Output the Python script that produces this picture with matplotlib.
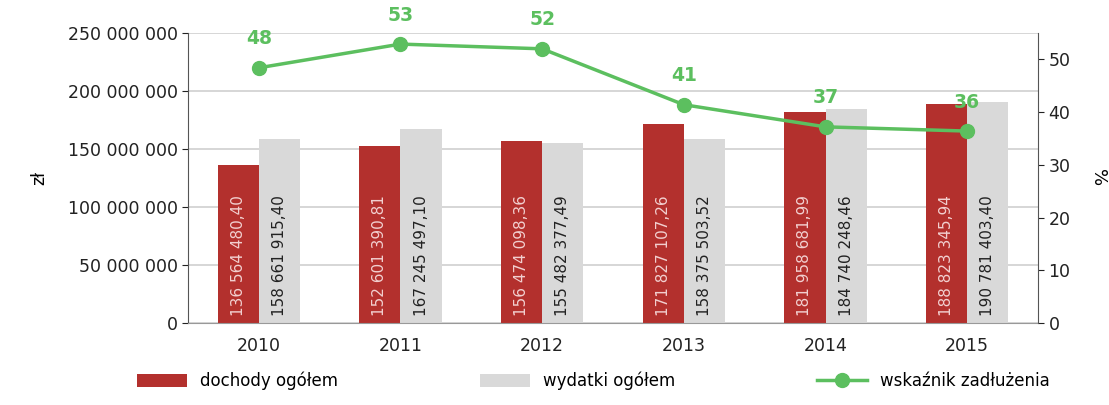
import numpy as np
import matplotlib.pyplot as plt
from matplotlib.ticker import FuncFormatter

years = ['2010', '2011', '2012', '2013', '2014', '2015']
dochody = [136564480.40, 152601390.81, 156474098.36, 171827107.26, 181958681.99, 188823345.94]
wydatki = [158661915.40, 167245497.10, 155482377.49, 158375503.52, 184740248.46, 190781403.40]
wskaznik = [48.4, 52.9, 52.0, 41.4, 37.2, 36.4]
wskaznik_labels = ['48', '53', '52', '41', '37', '36']

red = '#b3302d'
grey = '#d9d9d9'
green = '#5cbf5f'


def pl(v):
    s = '{:,.2f}'.format(v)
    return s.replace(',', ' ').replace('.', ',')


fig = plt.figure(figsize=(11.09, 4.05), dpi=100)
ax = fig.add_axes([0.1695, 0.2025, 0.7665, 0.716])
x = np.arange(len(years))
w = 0.29

ax.bar(x - w / 2, dochody, w, color=red, label='dochody ogółem', zorder=2)
ax.bar(x + w / 2, wydatki, w, color=grey, label='wydatki ogółem', zorder=2)

for i in range(len(years)):
    ax.text(x[i] - w / 2, 6e6, pl(dochody[i]), rotation=90, ha='center', va='bottom',
            color='#f2d0d0', fontsize=11, zorder=3)
    ax.text(x[i] + w / 2, 6e6, pl(wydatki[i]), rotation=90, ha='center', va='bottom',
            color='#222222', fontsize=11, zorder=3)

ax.set_xlim(-0.5, 5.5)
ax.set_ylim(0, 250e6)
ax.set_yticks(np.arange(0, 250e6 + 1, 50e6))
ax.yaxis.set_major_formatter(FuncFormatter(lambda v, p: '{:,.0f}'.format(v).replace(',', ' ')))
ax.set_xticks(x)
ax.set_xticklabels(years)
ax.grid(True, axis='y', color='#cfcfcf', linewidth=1.2, zorder=0)
ax.set_axisbelow(True)
for s in ['top', 'right']:
    ax.spines[s].set_visible(False)
ax.spines['left'].set_color('#555555')
ax.spines['bottom'].set_color('#999999')
ax.tick_params(axis='both', labelsize=12.5, colors='#222222', length=4)
ax.tick_params(axis='x', length=0, pad=10)
ax.set_ylabel('zł', fontsize=12.5, labelpad=14)

ax2 = ax.twinx()
ax2.plot(x, wskaznik, color=green, linewidth=2.5, marker='o', markersize=10, label='wskaźnik zadłużenia', zorder=4)
for i in range(len(years)):
    ax2.annotate(wskaznik_labels[i], (x[i], wskaznik[i]), xytext=(0, 14), textcoords='offset points',
                 ha='center', va='bottom', color=green, fontsize=13.5, fontweight='bold')
ax2.set_ylim(0, 55)
ax2.set_yticks(np.arange(0, 51, 10))
for s in ['top', 'left', 'bottom']:
    ax2.spines[s].set_visible(False)
ax2.spines['right'].set_color('#555555')
ax2.tick_params(axis='y', labelsize=12.5, colors='#222222', length=4)
ax2.set_ylabel('%', fontsize=13, rotation=-90, labelpad=26)

h1, l1 = ax.get_legend_handles_labels()
h2, l2 = ax2.get_legend_handles_labels()
fig.legend(h1 + h2, l1 + l2, loc='lower center', bbox_to_anchor=(0.535, 0.0), ncol=3,
           frameon=False, fontsize=12, columnspacing=8.5, handlelength=3, handleheight=0.8)

plt.savefig('out.png', dpi=100)
